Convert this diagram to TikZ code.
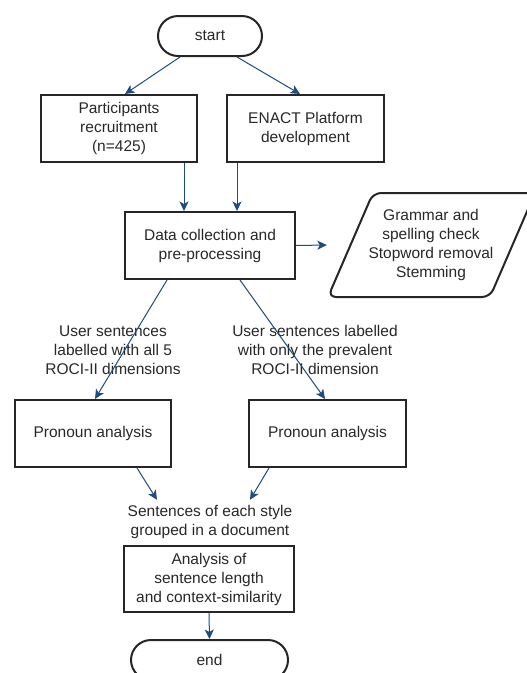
\documentclass[tikz,border=0pt]{standalone}
\usepackage{fontspec}
\setmainfont{Liberation Sans}
\usetikzlibrary{arrows.meta}
\definecolor{arr}{RGB}{31,76,128}
\definecolor{txt}{RGB}{40,40,40}
\begin{document}
\begin{tikzpicture}[x=1pt,y=-1pt,
  txtfont/.style={font=\fontsize{15.5}{19}\selectfont, text=txt},
  box/.style={draw=black!85, line width=2pt, align=center, txtfont, inner sep=0pt},
  lab/.style={align=center, txtfont, inner sep=0pt},
  conn/.style={draw=arr, line width=1pt, -{Stealth[length=9.5pt,width=9pt,inset=2.5pt]}}]
\useasboundingbox (0,0) rectangle (527,673);
\clip (0,0) rectangle (527,673);
\fill[white] (0,0) rectangle (527,673);

\node[box, rounded corners=20pt, minimum width=104pt, minimum height=40pt] (start) at (210,36) {start};
\node[box, minimum width=156pt, minimum height=67pt] (part) at (119,128.5) {Participants\\recruitment\\(n=425)};
\node[box, minimum width=157pt, minimum height=67pt] (enact) at (305.5,128.5) {ENACT Platform\\development};
\node[box, minimum width=170pt, minimum height=67pt] (data) at (210,245.5) {Data collection and\\pre-processing};
\node[lab, minimum width=208pt, minimum height=104pt] (para) at (431,245) {Grammar and\\spelling check\\Stopword removal\\Stemming};
\draw[black!85, line width=2pt, rounded corners=8pt] (373,193) -- (535,193) -- (490,297) -- (328,297) -- cycle;

\node[lab] (lab1) at (113,350) {User sentences\\labelled with all 5\\ROCI-II dimensions};
\node[lab] (lab2) at (315,350) {User sentences labelled\\with only the prevalent\\ROCI-II dimension};

\node[box, minimum width=156pt, minimum height=67pt] (pron1) at (93,433.5) {Pronoun analysis};
\node[box, minimum width=157pt, minimum height=67pt] (pron2) at (327.5,433.5) {Pronoun analysis};

\node[lab, minimum height=43pt] (sent) at (210,521.5) {Sentences of each style\\grouped in a document};
\node[box, minimum width=170pt, minimum height=66pt] (anal) at (209,579) {Analysis of\\sentence length\\and context-similarity};
\node[box, rounded corners=20pt, minimum width=157pt, minimum height=40pt] (end) at (209.5,660) {end};

\draw[conn] ([xshift=-30pt]start.south) -- ([xshift=6pt]part.north);
\draw[conn] ([xshift=27pt]start.south) -- ([xshift=-5.5pt]enact.north);
\draw[conn] ([xshift=65pt]part.south) -- ([xshift=-26pt]data.north);
\draw[conn] ([xshift=-68.5pt]enact.south) -- ([xshift=27pt]data.north);
\draw[conn] (data.east) -- (para.west);
\draw[conn] ([xshift=-43pt]data.south) -- ([xshift=2pt]pron1.north);
\draw[conn] ([xshift=30pt]data.south) -- ([xshift=-2.5pt]pron2.north);
\draw[conn] ([xshift=44pt]pron1.south) -- ([xshift=-53pt]sent.north);
\draw[conn] ([xshift=-58.5pt]pron2.south) -- ([xshift=40pt]sent.north);
\draw[conn] (anal.south) -- (end.north);
\end{tikzpicture}
\end{document}
